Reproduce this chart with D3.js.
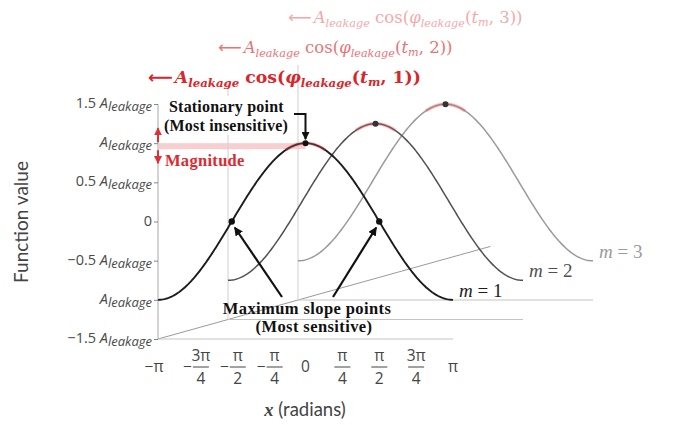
<!DOCTYPE html>
<html><head><meta charset="utf-8">
<script src="https://cdn.jsdelivr.net/npm/d3@7"></script>
<style>body{margin:0;background:#fff}svg{display:block}</style>
</head><body><svg id="c" width="679" height="425"></svg>
<script>
// ---- data ----
const seriesM = [1, 2, 3];                         // slice index m
const seriesAmplitude = [1, 1, 1];                 // A_leakage units
const seriesColor = ["#1c1c1c", "#505050", "#9a9a9a"];
const formulaColor = ["#d8262b", "#e87377", "#f3a9ac"];
const yTickValues = [1.5, 1, 0.5, 0, -0.5, -1, -1.5];
const yTickCoef = ["1.5 ", "", "0.5 ", "0", "\u22120.5 ", "", "\u22121.5 "];
const yTickHasA = [true, true, true, false, true, true, true];
const xTickQuarters = [-4, -3, -2, -1, 0, 1, 2, 3, 4];  // multiples of pi/4
const xTickSign = ["\u2212", "\u2212", "\u2212", "\u2212", "", "", "", "", ""];
const xTickNum = ["\u03c0", "3\u03c0", "\u03c0", "\u03c0", "0", "\u03c0", "\u03c0", "3\u03c0", "\u03c0"];
const xTickDen = ["", "4", "2", "4", "", "4", "2", "4", ""];
const slopePoints = [-Math.PI / 2, Math.PI / 2];
const stationaryPoint = 0;
const depthAxisEnd = 5.75;

const PI = Math.PI;
const svg = d3.select("#c");
const x = d3.scaleLinear().domain([-PI, PI]).range([158, 453]);
const y = d3.scaleLinear().domain([-1.5, 1.5]).range([339, 104]);
const dX = d3.scaleLinear().domain([1, 3]).range([0, 140]);
const dY = d3.scaleLinear().domain([1, 3]).range([0, -39]);
const serif = "'Liberation Serif','DejaVu Serif',serif";
const sans = "Lato,'Open Sans','Liberation Sans',sans-serif";
const tickF = "'Open Sans',Lato,'Liberation Sans',sans-serif";
const mathF = "'DejaVu Serif','Liberation Serif',serif";

// depth axis
svg.append("line")
  .attr("x1", x(-PI)).attr("y1", y(-1.5))
  .attr("x2", x(-PI) + dX(depthAxisEnd)).attr("y2", y(-1.5) + dY(depthAxisEnd))
  .attr("stroke", "#9a9a9a").attr("stroke-width", 1);

// baselines and per-slice vertical axes
seriesM.forEach((m, i) => {
  svg.append("line")
    .attr("x1", x(-PI) + dX(m)).attr("x2", x(PI) + dX(m))
    .attr("y1", y(-1.5) + dY(m)).attr("y2", y(-1.5) + dY(m))
    .attr("stroke", "#c4c4c4").attr("stroke-width", 1);
  svg.append("line")
    .attr("x1", x(-PI) + dX(m)).attr("x2", x(-PI) + dX(m))
    .attr("y1", y(-1.5) + dY(m)).attr("y2", y(1.5) + dY(m))
    .attr("stroke", i === 0 ? "#a8a8a8" : "#cfcfcf").attr("stroke-width", 1);
});

// y axis ticks
const yAxis = d3.axisLeft(y).tickValues(yTickValues).tickSize(4).tickFormat("");
const gy = svg.append("g").attr("transform", `translate(${x(-PI)},0)`).call(yAxis);
gy.select(".domain").remove();
gy.selectAll(".tick line").attr("stroke", "#888");

yTickValues.forEach((v, i) => {
  const t = svg.append("text").attr("x", 152).attr("y", y(v) + 4)
    .attr("text-anchor", "end").attr("fill", "#4a4a4a")
    .style("font-family", tickF).style("font-size", "14.5px");
  t.append("tspan").text(yTickCoef[i]);
  if (yTickHasA[i]) {
    t.append("tspan").style("font-style", "italic").text("A");
    t.append("tspan").attr("dy", 3).style("font-style", "italic").style("font-size", "13px").text("leakage");
  }
});

// y label
svg.append("text").attr("transform", "translate(28,222) rotate(-90)")
  .attr("text-anchor", "middle").attr("fill", "#444")
  .style("font-family", sans).style("font-size", "19px").text("Function value");

// magnitude band
svg.append("rect").attr("x", x(-PI)).attr("y", y(1)).attr("width", x(stationaryPoint) - x(-PI)).attr("height", 6)
  .attr("fill", "#f5c3c5").attr("opacity", 0.8);

// curves
const samples = d3.range(0, 241).map(k => -PI + k * 2 * PI / 240);
[2, 1, 0].forEach(i => {
  const m = seriesM[i], A = seriesAmplitude[i];
  const line = d3.line().x(t => x(t) + dX(m)).y(t => y(A * Math.cos(t)) + dY(m)).curve(d3.curveLinear);
  svg.append("path").datum(samples).attr("d", line)
    .attr("fill", "none").attr("stroke", seriesColor[i]).attr("stroke-width", i === 0 ? 1.9 : 1.5);
  const seg = samples.filter(t => Math.abs(t - stationaryPoint) <= 0.42);
  svg.append("path").datum(seg).attr("d", line)
    .attr("fill", "none").attr("stroke", "#e0474c").attr("stroke-opacity", 0.35).attr("stroke-width", 3.5);
  svg.append("circle").attr("cx", x(stationaryPoint) + dX(m)).attr("cy", y(A * Math.cos(stationaryPoint)) + dY(m))
    .attr("r", 3).attr("fill", i === 0 ? "#111" : "#333");
});

// slope point dots
slopePoints.forEach(t => {
  svg.append("circle").attr("cx", x(t)).attr("cy", y(Math.cos(t))).attr("r", 3.2).attr("fill", "#111");
});

// arrow markers
const defs = svg.append("defs");
function marker(id, color) {
  defs.append("marker").attr("id", id).attr("viewBox", "0 0 10 10").attr("refX", 9).attr("refY", 5)
    .attr("markerWidth", 4).attr("markerHeight", 4).attr("orient", "auto-start-reverse")
    .append("path").attr("d", "M0,0L10,5L0,10z").attr("fill", color);
}
marker("ab", "#111"); marker("ar", "#e02f35");

// max slope arrows
svg.append("line").attr("x1", 282).attr("y1", 297).attr("x2", x(slopePoints[0]) + 3).attr("y2", y(0) + 6)
  .attr("stroke", "#111").attr("stroke-width", 2.2).attr("marker-end", "url(#ab)");
svg.append("line").attr("x1", 333).attr("y1", 297).attr("x2", x(slopePoints[1]) - 3).attr("y2", y(0) + 6)
  .attr("stroke", "#111").attr("stroke-width", 2.2).attr("marker-end", "url(#ab)");

// stationary annotation
svg.append("rect").attr("x", 163).attr("y", 96).attr("width", 131).attr("height", 39).attr("fill", "#fff");
svg.append("path").attr("d", `M294,114H${x(stationaryPoint)}V${y(1) - 4}`)
  .attr("fill", "none").attr("stroke", "#111").attr("stroke-width", 2).attr("marker-end", "url(#ab)");
svg.append("text").attr("x", 169).attr("y", 112).attr("fill", "#111")
  .style("font-family", serif).style("font-weight", "bold").style("font-size", "16px").style("letter-spacing", "0.2px").text("Stationary point");
svg.append("text").attr("x", 164).attr("y", 131).attr("fill", "#111")
  .style("font-family", serif).style("font-weight", "bold").style("font-size", "16px").style("letter-spacing", "0.2px").text("(Most insensitive)");

// magnitude arrows + label
svg.append("line").attr("x1", x(-PI)).attr("x2", x(-PI)).attr("y1", y(1) - 1).attr("y2", y(1) - 15)
  .attr("stroke", "#e02f35").attr("stroke-width", 2).attr("marker-end", "url(#ar)");
svg.append("line").attr("x1", x(-PI)).attr("x2", x(-PI)).attr("y1", y(1) + 7).attr("y2", y(1) + 20)
  .attr("stroke", "#e02f35").attr("stroke-width", 2).attr("marker-end", "url(#ar)");
svg.append("text").attr("x", 165).attr("y", 166).attr("fill", "#dd2a30")
  .style("font-family", serif).style("font-weight", "bold").style("font-size", "16.5px").style("letter-spacing", "0.3px").text("Magnitude");

// max slope text
svg.append("text").attr("x", 307).attr("y", 314).attr("text-anchor", "middle").attr("fill", "#111")
  .style("font-family", serif).style("font-weight", "bold").style("font-size", "16.5px").style("letter-spacing", "0.4px").text("Maximum slope points");
svg.append("text").attr("x", 314).attr("y", 332).attr("text-anchor", "middle").attr("fill", "#111")
  .style("font-family", serif).style("font-weight", "bold").style("font-size", "16.5px").style("letter-spacing", "0.4px").text("(Most sensitive)");

// m labels
seriesM.forEach((m, i) => {
  const t = svg.append("text").attr("x", x(PI) + dX(m) + 6).attr("y", y(-1) + dY(m) - 3)
    .attr("fill", seriesColor[i]).style("font-family", serif).style("font-size", "19px");
  t.append("tspan").style("font-style", "italic").text("m");
  t.append("tspan").text(" = " + m);
});

// formulas
seriesM.forEach((m, i) => {
  const bold = i === 0;
  const fs = bold ? 17.3 : 16.5;
  const t = svg.append("text").attr("x", 148 + dX(m)).attr("y", 83 - 30 * (m - 1))
    .attr("fill", formulaColor[i]).style("font-family", mathF).style("font-size", fs + "px")
    .style("font-weight", bold ? "bold" : "normal");
  t.append("tspan").style("font-family", "'DejaVu Sans',sans-serif").text("\u27f5");
  t.append("tspan").attr("dx", 2).style("font-style", "italic").text("A");
  t.append("tspan").attr("dy", 4).style("font-style", "italic").style("font-size", (fs * 0.68) + "px").text("leakage");
  t.append("tspan").attr("dy", -4).text(" cos(");
  t.append("tspan").style("font-style", "italic").text("\u03c6");
  t.append("tspan").attr("dy", 4).style("font-style", "italic").style("font-size", (fs * 0.68) + "px").text("leakage");
  t.append("tspan").attr("dy", -4).text("(");
  t.append("tspan").style("font-style", "italic").text("t");
  t.append("tspan").attr("dy", 3).style("font-style", "italic").style("font-size", (fs * 0.68) + "px").text("m");
  t.append("tspan").attr("dy", -3).text(", " + m + "))");
});

// x tick labels
xTickQuarters.forEach((q, i) => {
  const cx = x(q * PI / 4);
  const g = svg.append("g").attr("fill", "#444").style("font-family", tickF).style("font-size", "15.5px");
  if (xTickDen[i]) {
    const fx = cx + (xTickSign[i] ? 6 : 0);
    g.append("text").attr("x", fx).attr("y", 361).attr("text-anchor", "middle").text(xTickNum[i]);
    g.append("line").attr("x1", fx - 8).attr("x2", fx + 8).attr("y1", 367).attr("y2", 367).attr("stroke", "#444").attr("stroke-width", 1);
    g.append("text").attr("x", fx).attr("y", 384).attr("text-anchor", "middle").text(xTickDen[i]);
    if (xTickSign[i]) g.append("text").attr("x", fx - 9).attr("y", 372).attr("text-anchor", "end").text(xTickSign[i]);
  } else {
    g.append("text").attr("x", cx - (xTickSign[i] ? 4 : 0)).attr("y", 372).attr("text-anchor", "middle").text(xTickSign[i] + xTickNum[i]);
  }
});

// x label
const xl = svg.append("text").attr("x", 305).attr("y", 416).attr("text-anchor", "middle").attr("fill", "#444")
  .style("font-family", sans).style("font-size", "18.5px");
xl.append("tspan").style("font-family", serif).style("font-style", "italic").style("font-weight", "bold").text("x");
xl.append("tspan").text(" (radians)");
</script></body></html>
